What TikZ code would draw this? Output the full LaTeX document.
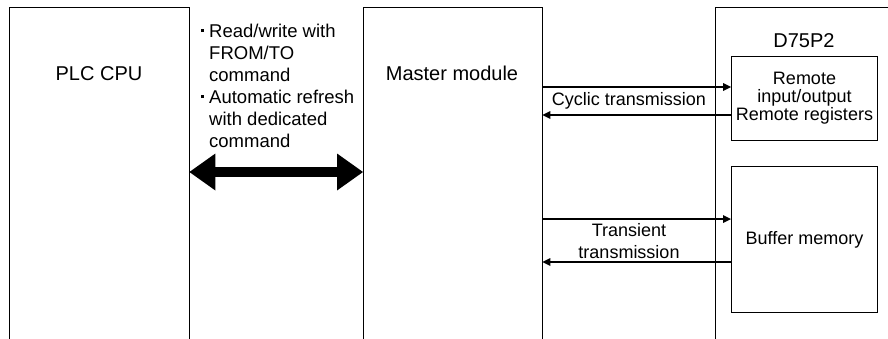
\documentclass[tikz,border=0pt]{standalone}
\usepackage{fontspec}
\setmainfont{Liberation Sans}
\usetikzlibrary{arrows.meta}

\newcommand{\labelfont}{\fontsize{20}{24}\selectfont}
\newcommand{\notefont}{\fontsize{18}{22}\selectfont}
\newcommand{\sqbul}{\rule[5pt]{3.5pt}{3.5pt}}

\tikzset{
	frame/.style={draw=none, inner sep=0pt, anchor=north west, minimum height=340pt},
	unit/.style={draw, line width=1pt, inner sep=0pt, anchor=north west, font=\notefont, align=center},
	boxlabel/.style={inner sep=0pt, anchor=base, font=\labelfont},
	note/.style={inner sep=0pt, font=\notefont, align=center},
	flow/.style={line width=1.5pt, -{Triangle[length=8pt,width=8pt,line width=0pt]}},
	bus/.style={line width=10pt, {Triangle[length=26pt,width=37pt,line width=0pt]}-{Triangle[length=26pt,width=37pt,line width=0pt]}},
}

\begin{document}
\begin{tikzpicture}[x=1pt, y=-1pt]
		\useasboundingbox (0,0) rectangle (888,338);

		% open frames
		\node[frame, minimum width=180pt] (plc) at (9,7) {};
		\node[frame, minimum width=179pt] (master) at (363,7) {};
		\node[frame, minimum width=190pt] (d75) at (715,7) {};
		\draw[line width=1pt] (plc.south west) -- (plc.north west) -- (plc.north east) -- (plc.south east);
		\draw[line width=1pt] (master.south west) -- (master.north west) -- (master.north east) -- (master.south east);
		\draw[line width=1pt] (d75.south west) -- (d75.north west) -- (d75.north east);

		\node[boxlabel] (plctext) at (99,80) {PLC CPU};
		\node[boxlabel] (mastertext) at (452,80) {Master module};
		\node[boxlabel] (d75text) at (804,47) {D75P2};

		\node[unit, minimum width=146pt, minimum height=84pt, font={\fontsize{18}{18}\selectfont}] (remote) at (731,56) {Remote\\input/output\\Remote registers};
		\node[unit, minimum width=146pt, minimum height=146pt] (buffer) at (731,166) {Buffer memory};

		\node[anchor=base west, inner sep=0pt, font={\fontsize{18.5}{22}\selectfont}] (cmdnote) at (209,37) {\begin{tabular}[t]{@{}l@{}}
			\llap{\sqbul\hspace{5pt}}Read/write with\\
			FROM/TO\\
			command\\
			\llap{\sqbul\hspace{5pt}}Automatic refresh\\
			with dedicated\\
			command
		\end{tabular}};

		% transfers
		\draw[bus] (plc.east |- 0,172) -- (master.west |- 0,172);
		\draw[flow] (master.east |- 0,87) -- (remote.west |- 0,87);
		\draw[flow] (remote.west |- 0,115) -- (master.east |- 0,115);
		\draw[flow] (master.east |- 0,219) -- (buffer.west |- 0,219);
		\draw[flow] (buffer.west |- 0,262) -- (master.east |- 0,262);

		\node[note] (cyclic) at (629,101) {Cyclic transmission};
		\node[note] (transient) at (629,241) {Transient\\transmission};
\end{tikzpicture}
\end{document}
